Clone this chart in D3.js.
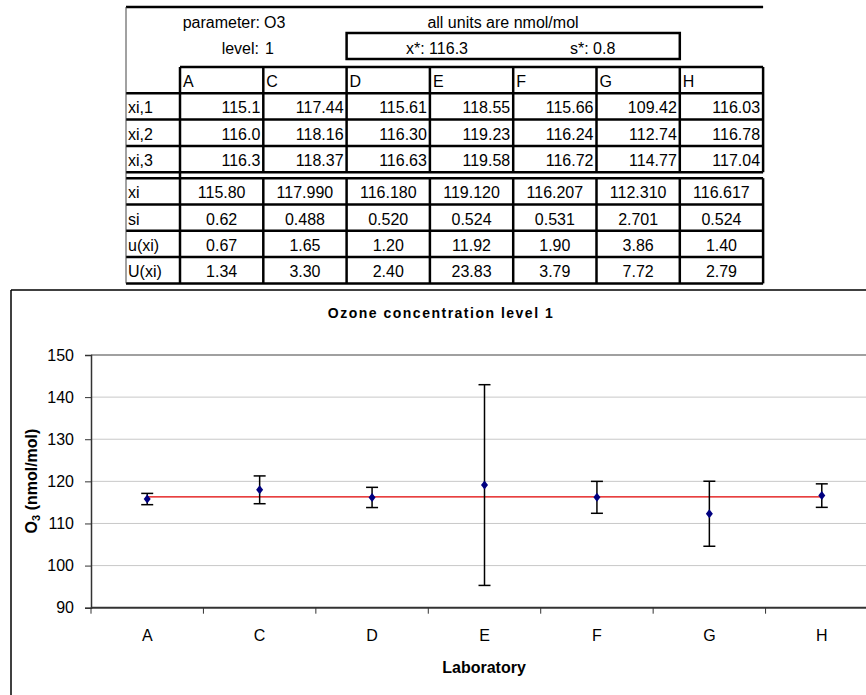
<!DOCTYPE html>
<html>
<head>
<meta charset="utf-8"/>
<script src="https://cdnjs.cloudflare.com/ajax/libs/d3/7.8.5/d3.min.js"></script>
<style>
  body { margin: 0; background: #fff; }
  text { font-family: "Liberation Sans", Arial, sans-serif; fill: #000; }
</style>
</head>
<body>
<svg id="chart" width="866" height="695"></svg>
<script>
// lab codes and table rows (as printed)
var labs = ["A", "C", "D", "E", "F", "G", "H"];
var xi1 = ["115.1", "117.44", "115.61", "118.55", "115.66", "109.42", "116.03"];
var xi2 = ["116.0", "118.16", "116.30", "119.23", "116.24", "112.74", "116.78"];
var xi3 = ["116.3", "118.37", "116.63", "119.58", "116.72", "114.77", "117.04"];
var xiMean = ["115.80", "117.990", "116.180", "119.120", "116.207", "112.310", "116.617"];
var si = ["0.62", "0.488", "0.520", "0.524", "0.531", "2.701", "0.524"];
var uxi = ["0.67", "1.65", "1.20", "11.92", "1.90", "3.86", "1.40"];
var Uxi = ["1.34", "3.30", "2.40", "23.83", "3.79", "7.72", "2.79"];
var xStar = 116.3, sStar = 0.8;
var yTicks = [90, 100, 110, 120, 130, 140, 150];

var svg = d3.select("#chart");
var FS = "16px";

// ---------- table ----------
var tLeft = 126, labW = 54, colW = 83.3, tRight = tLeft + labW + 7 * colW;
var rowH = 26.3;
var tab = svg.append("g");
var colX = function(i) { return tLeft + labW + i * colW; };

// heading
tab.append("line").attr("x1", tLeft).attr("x2", tRight).attr("y1", 7).attr("y2", 7)
    .attr("stroke", "#000").attr("stroke-width", 2.5);
tab.append("text").attr("x", 260).attr("y", 28).attr("text-anchor", "end")
    .style("font-size", FS).text("parameter:");
tab.append("text").attr("x", 264).attr("y", 28).style("font-size", FS).text("O3");
tab.append("text").attr("x", 259).attr("y", 54).attr("text-anchor", "end")
    .style("font-size", FS).text("level:");
tab.append("text").attr("x", 265).attr("y", 54).style("font-size", FS).text("1");
tab.append("text").attr("x", 503).attr("y", 28).attr("text-anchor", "middle")
    .style("font-size", FS).text("all units are nmol/mol");
tab.append("rect").attr("x", colX(2)).attr("y", 33).attr("width", colX(6) - colX(2)).attr("height", 26)
    .attr("fill", "none").attr("stroke", "#000").attr("stroke-width", 2.5);
tab.append("text").attr("x", 406).attr("y", 54).style("font-size", FS).text("x*: " + xStar.toFixed(1));
tab.append("text").attr("x", 570).attr("y", 54).style("font-size", FS).text("s*: " + sStar.toFixed(1));

var topRows = [["xi,1", xi1], ["xi,2", xi2], ["xi,3", xi3]];
var botRows = [["xi", xiMean], ["si", si], ["u(xi)", uxi], ["U(xi)", Uxi]];
var hdrY = 67;
var topY0 = hdrY + rowH;
var gapTop = topY0 + 3 * rowH, gapBot = gapTop + 6;

// header row
tab.selectAll("text.hdr").data(labs).enter().append("text").attr("class", "hdr")
    .attr("x", function(d, i) { return colX(i) + 3; })
    .attr("y", hdrY + 20).style("font-size", FS).text(function(d) { return d; });

topRows.forEach(function(r, k) {
  var y = topY0 + k * rowH;
  tab.append("text").attr("x", tLeft + 2).attr("y", y + 20).style("font-size", FS).text(r[0]);
  tab.selectAll(null).data(r[1]).enter().append("text")
      .attr("x", function(d, i) { return colX(i + 1) - 3; })
      .attr("y", y + 20).attr("text-anchor", "end").style("font-size", FS)
      .text(function(d) { return d; });
});
botRows.forEach(function(r, k) {
  var y = gapBot + k * rowH;
  tab.append("text").attr("x", tLeft + 2).attr("y", y + 20).style("font-size", FS).text(r[0]);
  tab.selectAll(null).data(r[1]).enter().append("text")
      .attr("x", function(d, i) { return colX(i) + colW / 2; })
      .attr("y", y + 20).attr("text-anchor", "middle").style("font-size", FS)
      .text(function(d) { return d; });
});
var tBottom = gapBot + 4 * rowH;

// grid lines of the table
var hl = [[colX(0), hdrY]];
for (var k = 1; k <= 3; k++) hl.push([tLeft, topY0 + (k - 1) * rowH]);
hl.push([tLeft, gapTop], [tLeft, gapBot]);
for (k = 1; k <= 3; k++) hl.push([tLeft, gapBot + k * rowH]);
hl.push([tLeft, tBottom]);
hl.forEach(function(h) {
  tab.append("line").attr("x1", h[0]).attr("x2", tRight).attr("y1", h[1]).attr("y2", h[1])
      .attr("stroke", "#000").attr("stroke-width", 2.5);
});
for (var c = 0; c <= 7; c++) {
  tab.append("line").attr("x1", colX(c)).attr("x2", colX(c)).attr("y1", hdrY).attr("y2", gapTop)
      .attr("stroke", "#000").attr("stroke-width", 2.5);
  tab.append("line").attr("x1", colX(c)).attr("x2", colX(c)).attr("y1", gapBot).attr("y2", tBottom)
      .attr("stroke", "#000").attr("stroke-width", 2.5);
}
tab.append("line").attr("x1", colX(0)).attr("x2", colX(0)).attr("y1", gapTop).attr("y2", gapBot)
    .attr("stroke", "#000").attr("stroke-width", 2.5);
tab.append("line").attr("x1", tLeft).attr("x2", tLeft).attr("y1", 7).attr("y2", tBottom)
    .attr("stroke", "#444").attr("stroke-width", 1);

// ---------- chart ----------
svg.append("line").attr("x1", 11).attr("x2", 866).attr("y1", 290).attr("y2", 290)
    .attr("stroke", "#000").attr("stroke-width", 1.5);
svg.append("line").attr("x1", 11).attr("x2", 11).attr("y1", 290).attr("y2", 695)
    .attr("stroke", "#000").attr("stroke-width", 1.5);

var m = { left: 91, top: 355, right: 878, bottom: 607.7 };
var x = d3.scaleBand().domain(labs).range([m.left, m.right]);
var y = d3.scaleLinear().domain([90, 150]).range([m.bottom, m.top]);
var plot = svg.append("g");

plot.selectAll("line.grid").data(yTicks.slice(1)).enter().append("line")
    .attr("x1", m.left).attr("x2", m.right)
    .attr("y1", function(d) { return y(d); }).attr("y2", function(d) { return y(d); })
    .attr("stroke", function(d) { return d === 150 ? "#808080" : "#c8c8c8"; })
    .attr("stroke-width", function(d) { return d === 150 ? 1.5 : 1; });

var yAxis = plot.append("g").attr("transform", "translate(" + m.left + ",0)")
    .call(d3.axisLeft(y).tickValues(yTicks).tickSize(6).tickPadding(11));
yAxis.select(".domain").attr("stroke", "#333").attr("stroke-width", 1.5);
yAxis.selectAll(".tick line").attr("stroke", "#333");
yAxis.selectAll("text").style("font-size", "16px").style("font-family", "Liberation Sans, Arial");

// x axis with ticks at category boundaries
plot.append("line").attr("x1", m.left).attr("x2", m.right).attr("y1", m.bottom).attr("y2", m.bottom)
    .attr("stroke", "#333").attr("stroke-width", 2);
plot.selectAll("line.xt").data(labs).enter().append("line")
    .attr("x1", function(d) { return x(d); }).attr("x2", function(d) { return x(d); })
    .attr("y1", m.bottom).attr("y2", m.bottom + 6).attr("stroke", "#333");
plot.selectAll("text.xl").data(labs).enter().append("text")
    .attr("x", function(d) { return x(d) + x.bandwidth() / 2; })
    .attr("y", 641).attr("text-anchor", "middle").style("font-size", "16px")
    .text(function(d) { return d; });

// assigned value line
plot.append("line")
    .attr("x1", x(labs[0]) + x.bandwidth() / 2).attr("x2", x(labs[6]) + x.bandwidth() / 2)
    .attr("y1", y(xStar)).attr("y2", y(xStar))
    .attr("stroke", "#e00000").attr("stroke-width", 1.2);

// error bars +/- U(xi)
var pts = labs.map(function(d, i) { return { lab: d, v: +xiMean[i], e: +Uxi[i] }; });
var eb = plot.selectAll("g.eb").data(pts).enter().append("g")
    .attr("transform", function(d) { return "translate(" + (x(d.lab) + x.bandwidth() / 2) + ",0)"; });
eb.append("line").attr("y1", function(d) { return y(d.v - d.e); }).attr("y2", function(d) { return y(d.v + d.e); })
    .attr("stroke", "#000").attr("stroke-width", 1.5);
eb.append("line").attr("x1", -6).attr("x2", 6)
    .attr("y1", function(d) { return y(d.v + d.e); }).attr("y2", function(d) { return y(d.v + d.e); })
    .attr("stroke", "#000").attr("stroke-width", 1.5);
eb.append("line").attr("x1", -6).attr("x2", 6)
    .attr("y1", function(d) { return y(d.v - d.e); }).attr("y2", function(d) { return y(d.v - d.e); })
    .attr("stroke", "#000").attr("stroke-width", 1.5);
eb.append("path")
    .attr("d", function(d) { var c = y(d.v); return "M0," + (c - 4.5) + "L3.5," + c + "L0," + (c + 4.5) + "L-3.5," + c + "Z"; })
    .attr("fill", "#000080");

// titles
svg.append("text").attr("x", 441).attr("y", 318).attr("text-anchor", "middle")
    .style("font-size", "14px").style("font-weight", "bold").style("letter-spacing", "1.5px")
    .text("Ozone concentration level 1");
svg.append("text").attr("x", 484).attr("y", 673).attr("text-anchor", "middle")
    .style("font-size", "16px").style("font-weight", "bold").text("Laboratory");
var yt = svg.append("text").attr("transform", "translate(37,481) rotate(-90)")
    .attr("text-anchor", "middle").style("font-size", "16px").style("font-weight", "bold");
yt.append("tspan").text("O");
yt.append("tspan").attr("dy", 3).style("font-size", "11px").text("3");
yt.append("tspan").attr("dy", -3).text(" (nmol/mol)");
</script>
</body>
</html>
